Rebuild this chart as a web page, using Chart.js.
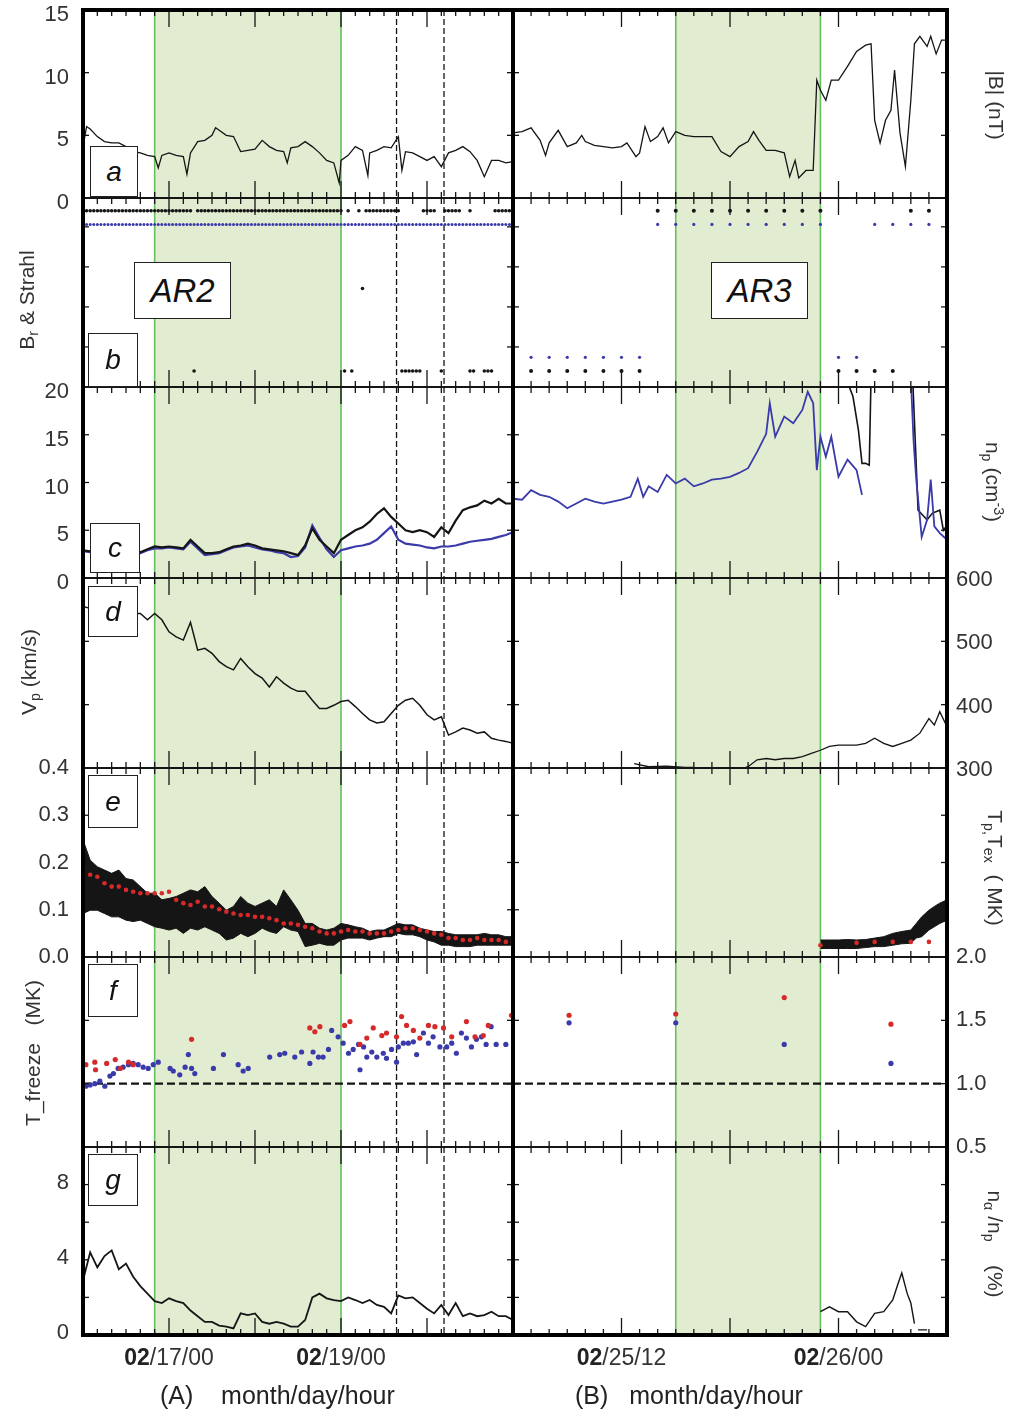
<!DOCTYPE html>
<html>
<head>
<meta charset="utf-8">
<title>Solar wind parameters around AR2 and AR3</title>
<script src="https://cdn.jsdelivr.net/npm/chart.js@4.4.1/dist/chart.umd.min.js"></script>
<style>
  body { margin: 0; background: #fff; }
  #fig { position: relative; width: 1012px; height: 1412px; overflow: hidden;
         font-family: "Liberation Sans", Arial, sans-serif; color: #333; }
  #plots { position: absolute; left: 0; top: 0; width: 1012px; height: 1412px; }
  #plots canvas { position: absolute; }
  .tag { position: absolute; box-sizing: border-box; background: #fff; border: 1.5px solid #222;
         font-style: italic; font-size: 28px; color: #111;
         display: flex; align-items: center; justify-content: center; }
  .tag.ar { font-size: 33px; }
  .yt { position: absolute; font-size: 21px; white-space: pre; line-height: 1; color: #333; }
  .yt.l { transform: translate(-50%, -50%) rotate(-90deg); }
  .yt.r { transform: translate(-50%, -50%) rotate(90deg); }
  .yt sub { font-size: 0.68em; vertical-align: -0.3em; }
  .yt sup { font-size: 0.68em; vertical-align: 0.55em; }
  .cap { position: absolute; top: 1381px; font-size: 25px; white-space: pre; color: #222; }
</style>
</head>
<body>
<div id="fig">
  <div id="plots"></div>

  <div class="tag" style="left:90px;top:146px;width:48px;height:51px">a</div>
  <div class="tag" style="left:88px;top:333px;width:50px;height:54px">b</div>
  <div class="tag" style="left:90px;top:523px;width:50px;height:50px">c</div>
  <div class="tag" style="left:88px;top:586px;width:50px;height:51px">d</div>
  <div class="tag" style="left:88px;top:775px;width:50px;height:53px">e</div>
  <div class="tag" style="left:88px;top:964px;width:50px;height:53px">f</div>
  <div class="tag" style="left:88px;top:1154px;width:50px;height:52px">g</div>
  <div class="tag ar" style="left:134px;top:262px;width:97px;height:57px">AR2</div>
  <div class="tag ar" style="left:711px;top:262px;width:97px;height:57px">AR3</div>

  <div class="yt l" style="left:28px;top:300px">B<sub>r</sub> &amp; Strahl</div>
  <div class="yt l" style="left:30px;top:672px">V<sub>p</sub> (km/s)</div>
  <div class="yt l" style="left:32px;top:1053px">T_freeze   (MK)</div>
  <div class="yt r" style="left:996px;top:105px">|B| (nT)</div>
  <div class="yt r" style="left:993px;top:482px">n<sub>p</sub> (cm<sup>-3</sup>)</div>
  <div class="yt r" style="left:994px;top:868px">T<sub>p,</sub>T<sub>ex</sub>  ( MK)</div>
  <div class="yt r" style="left:994px;top:1244px">n<sub>α</sub> /n<sub>p</sub>    (%)</div>

  <div class="cap" style="left:160px">(A)    month/day/hour</div>
  <div class="cap" style="left:575px">(B)   month/day/hour</div>
</div>

<script>
// ---- time grids (hours) ----
// block A counts hours from 02/16 00:00, block B from 02/25 06:00
const HOURS_A = [0,2,4,6,8,10,12,14,16,18,20,22,24,26,28,30,32,34,36,38,40,42,44,46,48,50,52,54,56,58,
                 60,62,64,66,68,70,72,74,76,78,80,82,84,86,88,90,92,94,96,98,100,102,104,106,108,110,112,114,116,118,120];
const dateTicksA = [24, 72];
const dateTextA = ['02/17/00', '02/19/00'];
const dateTicksB = [6, 18];
const dateTextB = ['02/25/12', '02/26/00'];

// intervals
const shadeA = [20, 72];
const shadeB = [9, 17];
const markersA = [87.5, 100.75];
const freezeRef = 1.0;

// (a) |B| nT
const bT_A = [0,1,2,4,6,8,10,12,14,16,18,20,21,22,24,26,28,29,30,32,34,36,37,38,40,42,44,46,48,50,52,54,56,57,58,
              60,62,64,66,68,70,71.5,72,74,76,78,79.5,80,82,84,86,88,89,90,92,94,96,98,100,102,104,106,108,110,112,114,116,118,120];
const bV_A = [4.1,5.7,5.5,4.9,4.5,4.4,4.4,4.1,3.7,3.6,3.4,3.3,2.4,3.4,3.6,3.4,3.3,1.9,3.6,4.5,4.6,5.0,5.6,5.4,5.0,
              4.9,3.7,3.8,3.9,4.6,4.1,3.8,3.7,2.8,4.0,4.1,4.5,4.1,3.6,3.0,2.8,1.2,3.0,3.4,4.1,3.8,1.8,3.6,3.8,4.1,
              4.0,4.9,2.2,3.7,3.6,3.3,3.0,3.3,2.5,3.6,3.8,4.1,3.7,3.0,1.7,3.0,3.0,2.8,2.9];
const bT_B = [0,0.5,1,1.5,1.8,2,2.5,3,3.5,3.8,4,4.5,5,5.5,6,6.3,6.8,7,7.3,7.6,8,8.3,8.6,9,9.5,10,10.5,11,11.5,12,
              12.5,13,13.3,13.6,14,14.5,15,15.3,15.6,15.8,16.2,16.6,16.8,17,17.3,17.6,18,18.5,19,19.5,19.8,20,20.3,20.6,20.9,
              21.1,21.4,21.7,22,22.2,22.5,22.9,23.1,23.4,23.7,24];
const bV_B = [5.2,5.3,5.6,4.6,3.4,4.4,5.4,4.1,4.4,5.0,4.5,4.2,4.1,4.0,4.1,4.4,3.3,3.6,5.7,4.5,4.9,5.6,4.4,5.3,5.0,4.9,
              4.9,4.9,3.7,3.3,4.1,4.5,5.3,4.6,3.8,3.8,3.6,1.7,3.0,1.6,2.2,2.2,9.4,8.6,7.8,9.4,9.4,10.5,11.7,12.2,12.3,
              6.2,4.4,6.2,7.0,10.2,5.2,2.5,7.8,12.3,12.9,12.1,12.9,11.5,12.6,12.6];

// (b) Br and strahl flags, as runs of hourly samples [from, to]
const brUpA = [[0,30],[32,72],[74,74],[77,77],[79,88],[95,98],[101,105],[108,108],[115,120]];
const brDownA = [[31,31],[73,73],[75,75],[89,94],[100,100],[108,109],[112,114]];
const strahlUpA = [[0,120]];
const brMidT_A = [78];
const brMidV_A = [0.03];
const brUpB = [[8,17],[22,23]];
const brDownB = [[1,7],[18,21]];
const strahlUpB = [[8,17],[20,23]];
const strahlDownB = [[1,7],[18,19]];
const BR_LEVEL = 1;
const STRAHL_LEVEL = 0.83;

// (c) densities cm^-3
const npBlackA = [2.9,2.8,2.6,2.5,2.4,2.4,2.5,2.6,2.7,3.0,
                  3.3,3.2,3.3,3.2,3.1,4.0,3.3,2.6,2.6,2.7,
                  3.0,3.3,3.4,3.6,3.4,3.1,3.0,2.9,2.8,2.6,
                  2.4,3.4,5.2,4.0,3.3,2.6,4.0,4.5,5.0,5.3,
                  5.9,6.7,7.3,6.4,5.7,5.0,4.8,5.0,4.8,4.3,
                  5.3,4.7,6.0,7.1,7.4,7.6,8.1,7.8,8.3,7.8,
                  7.8];
const npBlueA = [2.8,2.7,2.5,2.4,2.3,2.3,2.4,2.5,2.6,2.9,
                 3.1,3.1,3.2,3.1,3.0,3.8,3.1,2.4,2.5,2.6,
                 2.9,3.2,3.3,3.4,3.2,3.0,2.9,2.7,2.6,2.2,
                 2.3,3.2,5.5,4.2,3.0,2.2,2.9,3.1,3.3,3.4,
                 3.6,4.0,4.7,5.4,4.0,3.6,3.5,3.4,3.2,3.1,
                 3.3,3.3,3.4,3.6,3.8,3.9,4.0,4.1,4.3,4.5,
                 4.8];
const npBlueT_B = [0,0.5,1,1.5,2,2.5,3,3.5,4,4.5,5,5.5,6,6.5,6.9,7.2,7.5,8,8.5,9,9.5,10,10.5,11,11.5,12,12.5,13,13.5,14,
                   14.2,14.5,15,15.5,16,16.3,16.6,16.8,17,17.3,17.6,18,18.5,19,19.3,20.5,22,22.15,22.3,22.6,22.9,23.1,23.3,23.6,24];
const npBlueV_B = [8.3,8.2,9.2,8.7,8.5,8.0,7.3,7.8,8.3,8.0,7.8,8.0,8.2,8.5,10.4,8.5,9.6,9.0,10.8,9.9,10.4,9.6,9.9,10.3,10.4,
                   10.6,11.0,11.5,13.2,15.1,18.3,14.8,16.9,16.2,17.6,19.5,18.3,11.3,14.8,12.7,14.8,10.6,12.4,11.3,8.7,
                   null,21,14.4,10.3,4.3,6.1,10.3,5.4,4.7,4.0];
const npBlackT_B = [18.4,18.8,19.1,19.3,19.5,19.7,19.8,20.5,22.1,22.4,22.9,23.2,23.6,23.8,24];
const npBlackV_B = [21,19,15.5,12,12,11.8,21,null,21,7.1,6.1,6.8,7.1,5.0,5.5];

// (d) proton speed km/s
const vpA = [555,552,548,546,545,544,543,544,544,534,
             544,534,515,507,502,530,486,489,481,468,
             460,455,473,460,449,442,428,444,434,426,
             421,421,407,394,394,399,405,407,397,386,
             376,371,373,386,399,407,410,399,384,376,
             381,352,357,363,360,355,357,347,344,342,
             339];
const vpT_B = [6.7,7.5,8.5,9.5,10,10.5,11,12,12.7,13,13.5,14,14.5,15,15.5,16,16.5,17,17.5,18,18.5,19,19.5,20,20.5,
               21,21.5,22,22.5,23,23.3,23.6,24];
const vpV_B = [307,302,303,301,301,299,297,297,299,302,313,315,313,315,315,318,323,328,334,336,336,336,339,347,339,
               334,339,344,355,378,368,389,365];

// (e) Tp spread (upper / lower envelope) and Tex, MK
const tpUpA = [0.248,0.205,0.191,0.184,0.177,0.184,0.166,0.163,0.149,0.135,
               0.135,0.121,0.124,0.128,0.135,0.142,0.138,0.149,0.128,0.114,
               0.099,0.107,0.128,0.114,0.107,0.114,0.121,0.107,0.142,0.121,
               0.099,0.071,0.071,0.061,0.057,0.061,0.071,0.068,0.064,0.061,
               0.054,0.057,0.057,0.064,0.071,0.068,0.068,0.061,0.057,0.054,
               0.054,0.05,0.047,0.047,0.047,0.047,0.05,0.047,0.047,0.043,
               0.043];
const tpLoA = [0.092,0.099,0.099,0.092,0.085,0.085,0.078,0.075,0.078,0.071,
               0.064,0.061,0.057,0.061,0.05,0.061,0.057,0.064,0.057,0.05,
               0.036,0.04,0.05,0.043,0.05,0.061,0.054,0.05,0.064,0.057,
               0.054,0.022,0.025,0.029,0.025,0.025,0.036,0.04,0.04,0.04,
               0.036,0.04,0.043,0.043,0.05,0.047,0.047,0.043,0.036,0.032,
               0.025,0.025,0.022,0.022,0.022,0.025,0.025,0.025,0.025,0.025,
               0.025];
const texA = [0.188,0.174,0.17,0.156,0.149,0.149,0.142,0.138,0.135,0.135,
              0.135,0.135,0.138,0.121,0.114,0.11,0.117,0.107,0.107,0.101,
              0.096,0.092,0.089,0.089,0.085,0.085,0.082,0.078,0.071,0.071,
              0.068,0.064,0.061,0.054,0.05,0.05,0.054,0.057,0.054,0.054,
              0.05,0.05,0.05,0.054,0.057,0.061,0.061,0.057,0.054,0.05,
              0.047,0.04,0.04,0.036,0.036,0.04,0.036,0.036,0.036,0.032,
              0.032];
const tpT_B = [17,17.5,18,18.5,19,19.5,20,20.5,21,21.5,22,22.3,22.6,23,23.3,23.6,24];
const tpUpB = [0.036,0.036,0.036,0.037,0.036,0.037,0.04,0.043,0.05,0.054,0.057,0.071,0.085,0.099,0.107,0.114,0.121];
const tpLoB = [0.018,0.018,0.018,0.018,0.018,0.02,0.022,0.022,0.025,0.028,0.029,0.04,0.043,0.057,0.064,0.071,0.078];
const texT_B = [17,19,20,21,22,23];
const texV_B = [0.025,0.03,0.032,0.032,0.032,0.032];

// (f) freeze-in temperatures, MK
const frRedT_A = [0.8,3.3,3.5,6.6,9,10.4,12.7,14,30.3,63.3,64.7,66.1,73,74.5,77.3,79.2,81,83.4,84.7,87.5,
                  88.9,90.3,92.2,94,96.4,98.2,100.6,102.9,107,109.4,111.7,113.1,119.6];
const frRedV_A = [1.15,1.17,1.11,1.16,1.19,1.12,1.17,1.15,1.35,1.44,1.41,1.45,1.46,1.49,1.31,1.36,1.44,1.38,1.4,1.37,
                  1.53,1.46,1.42,1.36,1.46,1.45,1.44,1.37,1.49,1.37,1.38,1.46,1.54];
const frBlueT_A = [0.8,2,3.3,4.7,6.1,7.5,8.5,9.8,11.2,12.7,14,15.4,16.8,18.2,19.6,21,24.3,25.2,27,28.5,
                   29.4,30.3,31.2,36.4,39.2,43.3,44.7,46.1,52.1,54.9,56.3,59.1,61,63.3,64.2,65.7,67,68.5,69.4,71.2,
                   72.6,74.1,75.4,76.9,77.3,78.3,79.2,80.6,82,83.8,84.7,86.1,87.5,88,89.4,90.8,92.2,93.1,95,96.4,
                   97.7,99.6,101.5,102.9,104.2,105.6,107,108.4,109.8,111.2,112.5,113.9,115.3,118];
const frBlueV_A = [0.98,0.99,1.0,1.02,0.98,1.06,1.08,1.12,1.13,1.15,1.16,1.15,1.13,1.12,1.15,1.17,1.12,1.1,1.07,1.13,
                   1.23,1.12,1.08,1.12,1.23,1.15,1.1,1.12,1.21,1.23,1.24,1.21,1.25,1.16,1.25,1.21,1.21,1.27,1.42,1.37,
                   1.32,1.24,1.27,1.31,1.11,1.29,1.21,1.25,1.21,1.24,1.2,1.27,1.17,1.29,1.32,1.32,1.33,1.23,1.4,1.32,
                   1.37,1.29,1.29,1.32,1.24,1.4,1.36,1.29,1.35,1.37,1.31,1.45,1.31,1.31];
const frT_B = [3.1, 9, 15, 20.9];
const frRedV_B = [1.54, 1.55, 1.68, 1.47];
const frBlueV_B = [1.48, 1.48, 1.31, 1.16];

// (g) alpha/proton ratio, %
const alphaA = [2.9,4.4,3.6,4.2,4.5,3.5,3.8,3.1,2.6,2.2,
                1.8,1.7,1.95,1.8,1.7,1.3,1.0,0.7,0.7,0.5,
                0.45,0.35,1.15,1.06,1.15,0.7,0.6,0.7,0.6,0.45,
                0.45,0.8,2.0,2.2,1.95,1.86,1.8,2.0,1.86,1.7,
                1.86,1.6,1.5,1.15,2.1,1.95,2.0,1.7,1.4,1.15,
                1.6,1.06,1.7,1.0,1.15,1.0,1.06,1.24,1.0,1.0,
                0.8];
const alphaT_B = [17,17.5,18,18.5,19,19.5,20,20.5,21,21.3,21.5,21.8,22,22.2,22.3,22.4,22.9];
const alphaV_B = [1.24,1.5,1.24,1.24,0.7,0.45,1.15,1.24,1.86,2.75,3.3,2.2,1.7,0.6,null,0.27,0.27];

// ---- drawing ----
const plots = document.getElementById('plots');
const ROW_EDGES = [10, 198, 387, 578, 768, 957, 1147, 1335];
const FONT = "'Liberation Sans', Arial, sans-serif";
const INK = '#151515';
const BLUE = '#3a3aaa';
const RED = '#d62a2a';

const pts = (T, V) => T.map((t, i) => ({ x: t, y: V[i] }));
const runPts = (runs, level) => {
  const out = [];
  runs.forEach(([a, b]) => { for (let h = a; h <= b; h++) out.push({ x: h, y: level }); });
  return out;
};
const trace = (data, color, width) => ({
  data, borderColor: color, backgroundColor: color, borderWidth: width,
  pointRadius: 0, tension: 0, fill: false, clip: 0
});
const dots = (data, color, r) => ({
  data, showLine: false, borderColor: color, backgroundColor: color,
  pointBackgroundColor: color, pointBorderWidth: 0, pointRadius: r
});

// shading, reference lines, inward ticks, frame and date labels for one panel
function decorPlugin(d) {
  const seg = (ctx, x0, y0, x1, y1) => { ctx.beginPath(); ctx.moveTo(x0, y0); ctx.lineTo(x1, y1); ctx.stroke(); };
  return {
    id: 'panelDecor',
    beforeDraw(chart) {
      const { ctx, chartArea: a, scales: { x, y } } = chart;
      ctx.save();
      if (d.shade) {
        const x0 = x.getPixelForValue(d.shade[0]), x1 = x.getPixelForValue(d.shade[1]);
        ctx.fillStyle = '#e2ecd0';
        ctx.fillRect(x0, a.top, x1 - x0, a.bottom - a.top);
        ctx.strokeStyle = '#66bf5e';
        ctx.lineWidth = 1.6;
        seg(ctx, x0, a.top, x0, a.bottom);
        seg(ctx, x1, a.top, x1, a.bottom);
      }
      ctx.strokeStyle = INK;
      ctx.lineWidth = 1.3;
      ctx.setLineDash([6, 3]);
      (d.markers || []).forEach(h => {
        const px = x.getPixelForValue(h);
        seg(ctx, px, a.top, px, a.bottom);
      });
      if (d.level != null) {
        ctx.lineWidth = 2.4;
        ctx.setLineDash([8, 4]);
        const py = y.getPixelForValue(d.level);
        seg(ctx, a.left, py, a.right, py);
      }
      ctx.restore();
    },
    afterDraw(chart) {
      const { ctx, chartArea: a, scales: { x, y } } = chart;
      ctx.save();
      ctx.strokeStyle = INK;
      ctx.lineWidth = 1.3;
      for (let h = x.min; h <= x.max + 1e-9; h += d.minor) {
        const px = x.getPixelForValue(h);
        const len = Math.abs(h / d.major - Math.round(h / d.major)) < 1e-6 ? 17 : 6;
        seg(ctx, px, a.top, px, a.top + len);
        seg(ctx, px, a.bottom, px, a.bottom - len);
      }
      y.ticks.forEach(t => {
        if (t.value <= y.min + 1e-9 || t.value >= y.max - 1e-9) return;
        const py = y.getPixelForValue(t.value);
        seg(ctx, a.left, py, a.left + 6, py);
        seg(ctx, a.right, py, a.right - 6, py);
      });
      ctx.lineWidth = 2;
      ctx.strokeRect(a.left, a.top, a.right - a.left, a.bottom - a.top);
      ctx.lineWidth = 4;
      ctx.strokeStyle = '#000';
      if (d.heavy.includes('left')) seg(ctx, a.left, a.top - 2, a.left, a.bottom + 2);
      if (d.heavy.includes('right')) seg(ctx, a.right, a.top - 2, a.right, a.bottom + 2);
      if (d.heavy.includes('top')) seg(ctx, a.left - 2, a.top, a.right + 2, a.top);
      if (d.heavy.includes('bottom')) seg(ctx, a.left - 2, a.bottom, a.right + 2, a.bottom);
      if (d.dates) {
        ctx.textBaseline = 'middle';
        ctx.textAlign = 'left';
        d.dates.hours.forEach((h, i) => {
          const txt = d.dates.text[i];
          const head = txt.slice(0, 2), tail = txt.slice(2);
          ctx.font = 'bold 23px ' + FONT;
          const hw = ctx.measureText(head).width;
          ctx.font = '23px ' + FONT;
          const tw = ctx.measureText(tail).width;
          const x0 = x.getPixelForValue(h) - (hw + tw) / 2;
          const yy = a.bottom + 24;
          ctx.fillStyle = '#222';
          ctx.font = 'bold 23px ' + FONT;
          ctx.fillText(head, x0, yy);
          ctx.fillStyle = '#333';
          ctx.font = '23px ' + FONT;
          ctx.fillText(tail, x0 + hw, yy);
        });
      }
      ctx.restore();
    }
  };
}

function makePanel(col, row, y, datasets, extra) {
  const isA = col === 'A';
  const top = ROW_EDGES[row], bottom = ROW_EDGES[row + 1];
  // room above/below the plot area for the end tick labels (label half-height + tick padding)
  const padT = 32, padB = row === 6 ? 50 : 32, edge = 6;
  const axisW = isA ? 83 : 65, plotW = isA ? 430 : 434;
  const cv = document.createElement('canvas');
  cv.width = axisW + plotW + edge;
  cv.height = bottom - top + padT + padB;
  cv.style.left = (isA ? 0 : 513 - edge) + 'px';
  cv.style.top = (top - padT) + 'px';
  plots.appendChild(cv);

  const labelled = y.labels || [];
  const heavy = ['left', 'right'];
  if (row === 0) heavy.push('top');
  if (row === 6) heavy.push('bottom');
  const decor = Object.assign({
    minor: isA ? 4 : 1, major: isA ? 24 : 6, heavy,
    shade: isA ? shadeA : shadeB, markers: isA ? markersA : []
  }, extra || {});

  return new Chart(cv, {
    type: 'line',
    data: { datasets },
    options: {
      responsive: false,
      animation: false,
      events: [],
      layout: { padding: { top: padT, bottom: padB, left: isA ? 0 : edge, right: isA ? edge : 0 } },
      plugins: { legend: { display: false }, tooltip: { enabled: false } },
      scales: {
        x: { type: 'linear', display: false, bounds: 'data', min: 0, max: isA ? 120 : 24 },
        y: {
          type: 'linear',
          position: isA ? 'left' : 'right',
          bounds: 'data',
          min: y.min, max: y.max,
          afterFit: s => { s.width = axisW; },
          grid: { display: false, drawTicks: false },
          border: { display: false },
          ticks: {
            stepSize: y.step,
            includeBounds: false,
            autoSkip: false,
            padding: isA ? 14 : 9,
            labelOffset: y.offset || 0,
            color: '#333',
            font: { family: FONT, size: 22 },
            callback: v => labelled.some(l => Math.abs(l - v) < 1e-6) ? (y.fmt ? y.fmt(v) : String(v)) : ''
          }
        }
      }
    },
    plugins: [decorPlugin(decor)]
  });
}

const fix1 = v => v.toFixed(1);

// (a) |B|
makePanel('A', 0, { min: 0, max: 15, step: 5, labels: [0, 5, 10, 15], offset: 5 },
  [trace(pts(bT_A, bV_A), INK, 1.3)]);
makePanel('B', 0, { min: 0, max: 15, step: 5 },
  [trace(pts(bT_B, bV_B), INK, 1.3)]);

// (b) Br and strahl
makePanel('A', 1, { min: -1.2, max: 1.16, step: 0.5 }, [
  dots(runPts(brUpA, BR_LEVEL), INK, 1.8),
  dots(runPts(brDownA, -BR_LEVEL), INK, 1.8),
  dots(pts(brMidT_A, brMidV_A), INK, 1.8),
  dots(runPts(strahlUpA, STRAHL_LEVEL), BLUE, 1.5)
]);
makePanel('B', 1, { min: -1.2, max: 1.16, step: 0.5, labels: [1, -1], offset: 6,
                    fmt: v => (v > 0 ? '+1' : '-1') }, [
  dots(runPts(brUpB, BR_LEVEL), INK, 2),
  dots(runPts(brDownB, -BR_LEVEL), INK, 2),
  dots(runPts(strahlUpB, STRAHL_LEVEL), BLUE, 1.6),
  dots(runPts(strahlDownB, -STRAHL_LEVEL), BLUE, 1.6)
]);

// (c) densities
makePanel('A', 2, { min: 0, max: 20, step: 5, labels: [0, 5, 10, 15, 20], offset: 5 }, [
  trace(pts(HOURS_A, npBlackA), INK, 2.2),
  trace(pts(HOURS_A, npBlueA), BLUE, 2.2)
]);
makePanel('B', 2, { min: 0, max: 20, step: 5 }, [
  trace(pts(npBlueT_B, npBlueV_B), BLUE, 1.8),
  trace(pts(npBlackT_B, npBlackV_B), INK, 1.6)
]);

// (d) Vp
makePanel('A', 3, { min: 300, max: 600, step: 100 },
  [trace(pts(HOURS_A, vpA), INK, 1.5)]);
makePanel('B', 3, { min: 300, max: 600, step: 100, labels: [300, 400, 500, 600], offset: 2 },
  [trace(pts(vpT_B, vpV_B), INK, 1.3)]);

// (e) Tp band and Tex
const band = (T, up, lo) => [
  Object.assign(trace(pts(T, up), INK, 1), { fill: '+1', backgroundColor: INK }),
  trace(pts(T, lo), INK, 1)
];
makePanel('A', 4, { min: 0, max: 0.4, step: 0.1, labels: [0, 0.1, 0.2, 0.3, 0.4], fmt: fix1 }, [
  dots(pts(HOURS_A, texA), RED, 2.3),
  ...band(HOURS_A, tpUpA, tpLoA)
]);
makePanel('B', 4, { min: 0, max: 0.4, step: 0.1 }, [
  dots(pts(texT_B, texV_B), RED, 2.3),
  ...band(tpT_B, tpUpB, tpLoB)
]);

// (f) freeze-in temperatures
makePanel('A', 5, { min: 0.5, max: 2.0, step: 0.5 }, [
  dots(pts(frRedT_A, frRedV_A), RED, 2.6),
  dots(pts(frBlueT_A, frBlueV_A), BLUE, 2.6)
], { level: freezeRef });
makePanel('B', 5, { min: 0.5, max: 2.0, step: 0.5, labels: [0.5, 1.0, 1.5, 2.0], fmt: fix1 }, [
  dots(pts(frT_B, frRedV_B), RED, 2.6),
  dots(pts(frT_B, frBlueV_B), BLUE, 2.6)
], { level: freezeRef });

// (g) alpha / proton
makePanel('A', 6, { min: 0, max: 10, step: 2, labels: [0, 4, 8], offset: -2 },
  [trace(pts(HOURS_A, alphaA), INK, 1.8)],
  { dates: { hours: dateTicksA, text: dateTextA } });
makePanel('B', 6, { min: 0, max: 10, step: 2 },
  [trace(pts(alphaT_B, alphaV_B), INK, 1.4)],
  { dates: { hours: dateTicksB, text: dateTextB } });
</script>
</body>
</html>
